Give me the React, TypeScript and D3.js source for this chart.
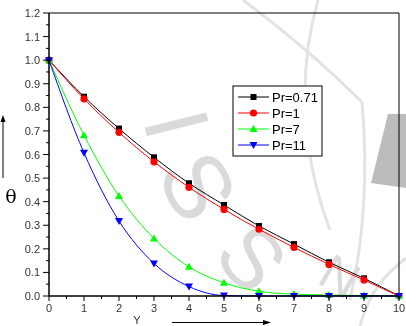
import React from "react";
import * as d3 from "d3";

// Temperature profiles θ(Y) for several Prandtl numbers
const yPoints = [0, 1, 2, 3, 4, 5, 6, 7, 8, 9, 10];
const thetaPr071 = [1.0, 0.845, 0.71, 0.588, 0.478, 0.386, 0.297, 0.22, 0.143, 0.075, 0.0];
const thetaPr1 = [1.0, 0.836, 0.694, 0.569, 0.461, 0.367, 0.283, 0.206, 0.134, 0.068, 0.0];
const thetaPr7 = [1.0, 0.682, 0.424, 0.244, 0.124, 0.056, 0.02, 0.008, 0.004, 0.002, 0.0];
const thetaPr11 = [1.0, 0.607, 0.318, 0.138, 0.04, 0.002, 0.0, 0.0, 0.0, 0.0, 0.0];

const seriesNames = ["Pr=0.71", "Pr=1", "Pr=7", "Pr=11"];
const seriesColors = ["#000000", "#ff0000", "#00ff00", "#0000ff"];
const seriesMarkers = ["square", "circle", "triangleUp", "triangleDown"];
const seriesValues = [thetaPr071, thetaPr1, thetaPr7, thetaPr11];

const xTicks = [0, 1, 2, 3, 4, 5, 6, 7, 8, 9, 10];
const yTicks = [0, 0.1, 0.2, 0.3, 0.4, 0.5, 0.6, 0.7, 0.8, 0.9, 1.0, 1.1, 1.2];

// background stamp lettering
const stampLetters = ["I", "S", "S", "N"];

const W = 406;
const H = 326;
const left = 49;
const right = 399;
const top = 13;
const bottom = 296;

const x = d3.scaleLinear().domain([0, 10]).range([left, right]);
const y = d3.scaleLinear().domain([0, 1.2]).range([bottom, top]);

function Marker({ kind, cx, cy, color }: { kind: string; cx: number; cy: number; color: string }) {
  if (kind === "square") {
    return <rect x={cx - 3} y={cy - 3} width={6} height={6} fill={color} />;
  }
  if (kind === "circle") {
    return <circle cx={cx} cy={cy} r={3.6} fill={color} />;
  }
  if (kind === "triangleUp") {
    return <path d={`M${cx},${cy - 4} L${cx + 4},${cy + 3} L${cx - 4},${cy + 3} Z`} fill={color} />;
  }
  return <path d={`M${cx},${cy + 4} L${cx + 4},${cy - 3} L${cx - 4},${cy - 3} Z`} fill={color} />;
}

export default function App() {
  const line = d3
    .line<number>()
    .x((_, i) => x(yPoints[i]))
    .y((v) => y(v))
    .curve(d3.curveMonotoneX);

  const minorX = d3.range(0, 10.01, 0.5).filter((v) => Math.abs(v - Math.round(v)) > 0.01);
  const minorY = d3.range(0.05, 1.2, 0.1);

  const font = "'Liberation Sans', Arial, sans-serif";

  // placement of the stamp letters along an arc
  const stampPos = [
    { cx: 177, cy: 124, rot: 76, size: 92 },
    { cx: 198, cy: 186, rot: 62, size: 92 },
    { cx: 252, cy: 258, rot: 48, size: 84 },
    { cx: 340, cy: 276, rot: 30, size: 50 },
  ];

  return (
    <svg
      width={W}
      height={H}
      style={{ position: "absolute", left: 0, top: 0, background: "#fff" }}
      fontFamily={font}
    >
      <rect x={0} y={0} width={W} height={H} fill="#fff" />

      {/* faint stamp in the background */}
      <g opacity={0.9}>
        <g fill="none" stroke="#e0e0e0" strokeWidth={3}>
          <path d="M318,0 C298,70 300,150 330,230" />
          <path d="M243,0 C290,35 330,70 362,102" />
          <path d="M362,102 C368,170 365,235 350,300" />
          <path d="M406,258 C385,275 370,290 360,326" />
        </g>
        <path d="M388,114 L406,114 L406,188 L371,183 Z" fill="#b5b5b5" />
        {stampLetters.map((ch, i) => (
          <text
            key={i}
            transform={`translate(${stampPos[i].cx},${stampPos[i].cy}) rotate(${stampPos[i].rot})`}
            textAnchor="middle"
            dy="0.35em"
            fontSize={stampPos[i].size}
            fill="#d6d6d6"
          >
            {ch}
          </text>
        ))}
      </g>

      {/* frame */}
      <line x1={left} y1={top} x2={right} y2={top} stroke="#000" strokeWidth={1} />
      <line x1={right} y1={top} x2={right} y2={bottom} stroke="#000" strokeWidth={1} />

      {/* series */}
      {seriesValues.map((vals, si) => (
        <g key={seriesNames[si]}>
          <path d={line(vals) ?? ""} fill="none" stroke={seriesColors[si]} strokeWidth={1} />
          {vals.map((v, i) => (
            <Marker key={i} kind={seriesMarkers[si]} cx={x(yPoints[i])} cy={y(v)} color={seriesColors[si]} />
          ))}
        </g>
      ))}

      {/* y axis */}
      <line x1={left} y1={top} x2={left} y2={bottom + 0.5} stroke="#000" strokeWidth={1.5} />
      {yTicks.map((t) => (
        <g key={t}>
          <line x1={left - 6} x2={left} y1={y(t)} y2={y(t)} stroke="#000" strokeWidth={1} />
          <text x={left - 9} y={y(t) + 4} textAnchor="end" fontSize={11} fill="#333">
            {t.toFixed(1)}
          </text>
        </g>
      ))}
      {minorY.map((t) => (
        <line key={t} x1={left - 3} x2={left} y1={y(t)} y2={y(t)} stroke="#000" strokeWidth={1} />
      ))}

      {/* x axis */}
      <line x1={left} y1={bottom} x2={right} y2={bottom} stroke="#000" strokeWidth={1.5} />
      {xTicks.map((t) => (
        <g key={t}>
          <line x1={x(t)} x2={x(t)} y1={bottom} y2={bottom + 5} stroke="#000" strokeWidth={1} />
          <text x={x(t)} y={bottom + 16} textAnchor="middle" fontSize={11} fill="#333">
            {t}
          </text>
        </g>
      ))}
      {minorX.map((t) => (
        <line key={t} x1={x(t)} x2={x(t)} y1={bottom} y2={bottom + 3} stroke="#000" strokeWidth={1} />
      ))}

      {/* axis titles with arrows */}
      <text x={11} y={203} textAnchor="middle" fontSize={19} fontFamily="'DejaVu Serif', 'Liberation Serif', serif">
        θ
      </text>
      <line x1={3} y1={178} x2={3} y2={119} stroke="#000" strokeWidth={1} />
      <path d="M3,115 L5.5,122 L0.5,122 Z" fill="#000" />

      <text x={137} y={324} textAnchor="middle" fontSize={11} fill="#333">
        Y
      </text>
      <line x1={172} y1={322.5} x2={265} y2={322.5} stroke="#000" strokeWidth={1} />
      <path d="M271,322.5 L263,320 L263,325 Z" fill="#000" />

      {/* legend */}
      <rect x={233} y={86} width={89} height={70} fill="#fff" stroke="#000" strokeWidth={1} />
      {seriesNames.map((name, i) => {
        const ly = 97 + i * 16;
        return (
          <g key={name}>
            <line x1={238} x2={269} y1={ly} y2={ly} stroke={seriesColors[i]} strokeWidth={1} />
            <Marker kind={seriesMarkers[i]} cx={253.5} cy={ly} color={seriesColors[i]} />
            <text x={272} y={ly + 5} fontSize={13} fill="#000">
              {name}
            </text>
          </g>
        );
      })}
    </svg>
  );
}
